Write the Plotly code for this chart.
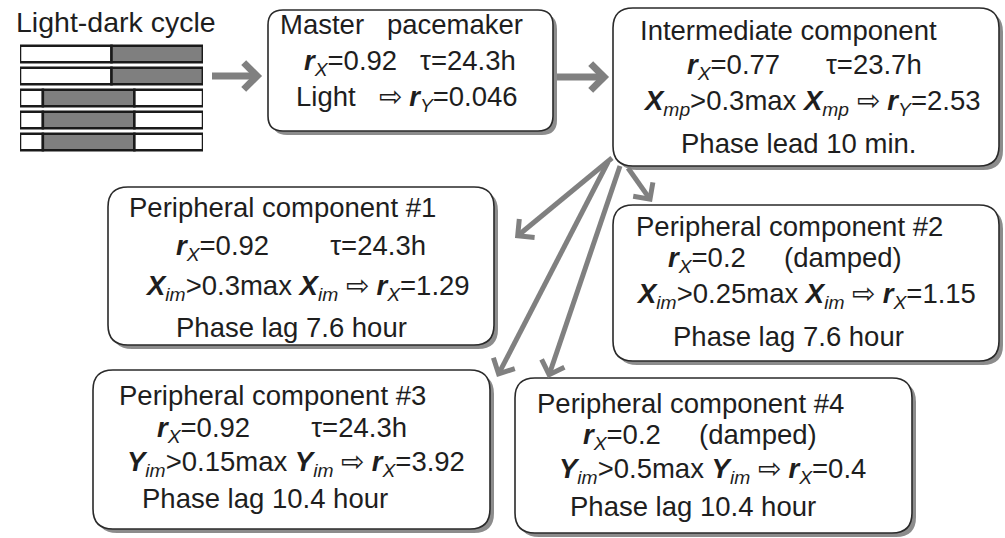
import numpy as np
import plotly.graph_objects as go

# ---------------- data ----------------
ld_rows = ["LD1", "LD2", "LD3", "LD4", "LD5"]
dark_start_h = [12, 12, 3, 3, 3]
dark_end_h = [24, 24, 15, 15, 15]
day_length_h = 24

title_ld = "Light-dark cycle"

master_name = "Master\u00a0\u00a0\u00a0pacemaker"
master_rx = "0.92"
master_tau = "24.3h"
master_input = "Light"
master_out_param = "Y"
master_out_val = "0.046"

inter_name = "Intermediate component"
inter_rx = "0.77"
inter_tau = "23.7h"
inter_var = "X"
inter_sub = "mp"
inter_thr = "0.3"
inter_out_param = "Y"
inter_out_val = "2.53"
inter_phase = "Phase lead 10 min."

peri_names = ["Peripheral component #1", "Peripheral component #2",
              "Peripheral component #3", "Peripheral component #4"]
peri_rx = ["0.92", "0.2", "0.92", "0.2"]
peri_tau = ["24.3h", None, "24.3h", None]
peri_var = ["X", "X", "Y", "Y"]
peri_sub = ["im", "im", "im", "im"]
peri_thr = ["0.3", "0.25", "0.15", "0.5"]
peri_out_param = ["X", "X", "X", "X"]
peri_out_val = ["1.29", "1.15", "3.92", "0.4"]
peri_phase = ["Phase lag 7.6 hour", "Phase lag 7.6 hour",
              "Phase lag 10.4 hour", "Phase lag 10.4 hour"]

# ---------------- styles / layout ----------------
W, H = 1005, 538
FONT = "'Liberation Sans', Arial, sans-serif"
FS = 27.5
TXT = "#1e1e1e"
GREY = "#808080"
NB = "\u00a0"


def rsym(sub):
    return "<b><i>r</i></b><sub><i>%s</i></sub>" % sub


def var(v, sub):
    return "<b><i>%s</i></b><sub><i>%s</i></sub>" % (v, sub)


box_lines = []
# master
box_lines.append([
    master_name,
    rsym("X") + "=" + master_rx + NB * 3 + "\u03c4=" + master_tau,
    master_input + NB * 3 + "\u21e8 " + rsym(master_out_param) + "=" + master_out_val,
])
# intermediate
box_lines.append([
    inter_name,
    rsym("X") + "=" + inter_rx + NB * 6 + "\u03c4=" + inter_tau,
    var(inter_var, inter_sub) + ">" + inter_thr + "max " + var(inter_var, inter_sub)
    + " \u21e8 " + rsym(inter_out_param) + "=" + inter_out_val,
    inter_phase,
])
for i in range(4):
    second = rsym("X") + "=" + peri_rx[i] + (
        NB * 8 + "\u03c4=" + peri_tau[i] if peri_tau[i] else NB * 5 + "(damped)")
    box_lines.append([
        peri_names[i],
        second,
        var(peri_var[i], peri_sub[i]) + ">" + peri_thr[i] + "max "
        + var(peri_var[i], peri_sub[i]) + " \u21e8 " + rsym(peri_out_param[i]) + "=" + peri_out_val[i],
        peri_phase[i],
    ])

# box geometry (pixels) : x0, y0, x1, y1, radius
boxes = [
    (268, 10, 553, 131, 15),
    (613, 8, 999, 166, 20),
    (108, 187, 494, 345, 20),
    (613, 205, 999, 361, 20),
    (93, 370, 490, 529, 20),
    (515, 378, 912, 533, 20),
]
line_x = [
    [401, 410, 407],
    [788, 804, 812, 798],
    [282, 301, 307, 291],
    [789, 785, 806, 788],
    [272, 282, 296, 265],
    [690, 700, 712, 693],
]
line_y = [
    [24, 62, 98],
    [30, 66, 102, 143],
    [207, 247, 287, 327],
    [226, 259, 295, 336],
    [395, 429, 463, 498],
    [403, 436, 470, 506],
]

# arrows: (x_start, y_start, x_tip, y_tip, width)
arrows = [
    (212, 76, 262, 76, 7),
    (557, 77, 609, 77, 7),
    (612, 158, 515, 238, 5),
    (608, 162, 497, 377, 5),
    (620, 166, 548, 378, 5),
    (628, 168, 652, 202, 5),
]


def rounded(x0, y0, x1, y1, r):
    return (f"M{x0 + r},{y0} L{x1 - r},{y0} Q{x1},{y0} {x1},{y0 + r} "
            f"L{x1},{y1 - r} Q{x1},{y1} {x1 - r},{y1} L{x0 + r},{y1} "
            f"Q{x0},{y1} {x0},{y1 - r} L{x0},{y0 + r} Q{x0},{y0} {x0 + r},{y0} Z")


shapes = []
SH = 4
for (x0, y0, x1, y1, r) in boxes:
    shapes.append(dict(type="path", path=rounded(x0 + SH, y0 + SH, x1 + SH, y1 + SH, r),
                       fillcolor="#8c8c8c", line=dict(width=0), xref="x", yref="y", layer="above"))
    shapes.append(dict(type="path", path=rounded(x0, y0, x1, y1, r),
                       fillcolor="white", line=dict(color="#2a2a2a", width=1.6),
                       xref="x", yref="y", layer="above"))


def rot(v, a):
    return np.array([v[0] * np.cos(a) - v[1] * np.sin(a), v[0] * np.sin(a) + v[1] * np.cos(a)])


for (xs, ys, xt, yt, w) in arrows:
    d = np.array([xt - xs, yt - ys], dtype=float)
    d /= np.linalg.norm(d)
    L = 19 if w > 5 else 17
    ang = np.deg2rad(45)
    back = -d
    tip_in = np.array([xt, yt]) - d * (w * 0.7)
    w1 = tip_in + L * rot(back, ang)
    w2 = tip_in + L * rot(back, -ang)
    shapes.append(dict(type="line", x0=xs, y0=ys, x1=tip_in[0], y1=tip_in[1],
                       line=dict(color=GREY, width=w), xref="x", yref="y", layer="above"))
    shapes.append(dict(type="path",
                       path=f"M{w1[0]:.1f},{w1[1]:.1f} L{tip_in[0]:.1f},{tip_in[1]:.1f} L{w2[0]:.1f},{w2[1]:.1f}",
                       line=dict(color=GREY, width=w), xref="x", yref="y", layer="above"))

annotations = []
for bi, lines in enumerate(box_lines):
    for li, t in enumerate(lines):
        annotations.append(dict(x=line_x[bi][li], y=line_y[bi][li], xref="x", yref="y",
                                text=t, showarrow=False, xanchor="center", yanchor="middle",
                                font=dict(family=FONT, size=FS, color=TXT)))
annotations.append(dict(x=116, y=22, xref="x", yref="y", text=title_ld, showarrow=False,
                        xanchor="center", yanchor="middle",
                        font=dict(family=FONT, size=28.5, color=TXT)))

fig = go.Figure()
# light-dark bars on their own axes
light1 = dark_start_h
dark_len = [e - s for s, e in zip(dark_start_h, dark_end_h)]
light2 = [day_length_h - e for e in dark_end_h]
bar_line = dict(color="#1a1a1a", width=2.5)
fig.add_trace(go.Bar(y=ld_rows, x=light1, base=[0] * 5, orientation="h", marker=dict(color="white", line=bar_line),
                     xaxis="x2", yaxis="y2", width=0.76, showlegend=False, hoverinfo="skip"))
fig.add_trace(go.Bar(y=ld_rows, x=dark_len, base=dark_start_h, orientation="h",
                     marker=dict(color="#7f7f7f", line=bar_line),
                     xaxis="x2", yaxis="y2", width=0.76, showlegend=False, hoverinfo="skip"))
fig.add_trace(go.Bar(y=ld_rows, x=light2, base=dark_end_h, orientation="h", marker=dict(color="white", line=bar_line),
                     xaxis="x2", yaxis="y2", width=0.76, showlegend=False, hoverinfo="skip"))
# invisible trace on main axes
fig.add_trace(go.Scatter(x=[0, W], y=[0, H], mode="markers", marker=dict(opacity=0), showlegend=False,
                         hoverinfo="skip"))

fig.update_layout(
    width=W, height=H, margin=dict(l=0, r=0, t=0, b=0),
    paper_bgcolor="white", plot_bgcolor="white", barmode="overlay",
    xaxis=dict(range=[0, W], visible=False, domain=[0, 1], fixedrange=True),
    yaxis=dict(range=[H, 0], visible=False, domain=[0, 1], fixedrange=True),
    xaxis2=dict(range=[0, day_length_h], domain=[20 / W, 203 / W], visible=False, anchor="y2"),
    yaxis2=dict(domain=[1 - 153 / H, 1 - 43 / H], visible=False, anchor="x2",
                categoryorder="array", categoryarray=ld_rows[::-1], range=[-0.5, 4.5]),
    shapes=shapes, annotations=annotations,
)

fig.write_html("out.html", config={"displayModeBar": False},
               post_script="document.body.style.margin='0';document.body.style.overflow='hidden';")
